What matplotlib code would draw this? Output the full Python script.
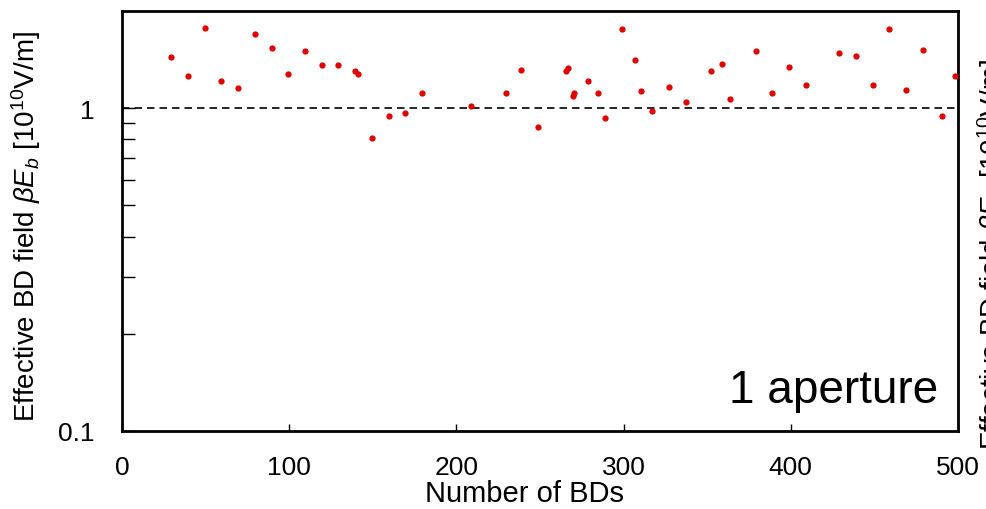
import matplotlib
matplotlib.use("Agg")
import matplotlib.pyplot as plt
from matplotlib.ticker import FixedLocator, NullFormatter, FixedFormatter

plt.rcParams['font.family'] = ['Liberation Sans', 'DejaVu Sans']
plt.rcParams['mathtext.fontset'] = 'custom'
plt.rcParams['mathtext.rm'] = 'Liberation Sans'
plt.rcParams['mathtext.it'] = 'Liberation Sans:italic'

num_bds = [29.3, 39.7, 49.8, 59.2, 69.4, 79.5, 89.9, 99.3, 109.4, 119.6, 129.0,
           139.2, 141.0, 149.5, 159.7, 169.1, 179.2, 208.9, 229.5, 238.8, 249.0,
           265.7, 266.7, 269.5, 270.5, 278.9, 284.5, 289.1, 299.2, 306.8, 310.6,
           317.2, 327.3, 337.5, 352.5, 358.9, 363.6, 379.4, 388.8, 398.9, 409.1,
           428.8, 439.0, 449.2, 458.5, 468.7, 479.1, 490.2, 498.4]
bd_field = [1.436, 1.258, 1.775, 1.217, 1.153, 1.695, 1.535, 1.273, 1.503, 1.360, 1.360,
            1.301, 1.273, 0.810, 0.945, 0.965, 1.115, 1.019, 1.115, 1.316, 0.874,
            1.301, 1.331, 1.089, 1.115, 1.217, 1.115, 0.934, 1.753, 1.406, 1.128,
            0.977, 1.164, 1.044, 1.301, 1.374, 1.066, 1.503, 1.115, 1.345, 1.178,
            1.485, 1.454, 1.178, 1.753, 1.139, 1.518, 0.945, 1.258]
x_ticks = [0, 100, 200, 300, 400, 500]
y_tick_labels = ["0.1", "1"]
ref_level = 1.0

fig = plt.figure(figsize=(9.87, 5.10), dpi=100)
ax = fig.add_axes([122/987, 1-432/510, (958-122)/987, (432-12)/510])

ax.plot(num_bds, bd_field, 'o', color='#e00000', markersize=4.5, markeredgewidth=0, zorder=3)
ax.axhline(ref_level, color='black', lw=1.2, dashes=(4.5, 3), zorder=2)

ax.set_yscale('log')
ax.set_xlim(0, 500)
ax.set_ylim(0.1, 2.0)

ax.xaxis.set_major_locator(FixedLocator(x_ticks))
ax.set_xticklabels([str(t) for t in x_ticks])
ax.yaxis.set_major_locator(FixedLocator([0.1, 1.0]))
ax.yaxis.set_major_formatter(FixedFormatter(y_tick_labels))
ax.yaxis.set_minor_locator(FixedLocator([0.2, 0.3, 0.4, 0.5, 0.6, 0.7, 0.8, 0.9]))
ax.yaxis.set_minor_formatter(NullFormatter())

ax.tick_params(axis='x', which='both', direction='in', length=5, width=1, labelsize=19, pad=17,
               top=False)
ax.tick_params(axis='y', which='major', direction='in', length=9, width=1, labelsize=19, pad=20,
               right=False)
ax.tick_params(axis='y', which='minor', direction='in', length=9, width=1, right=False)

for s in ax.spines.values():
    s.set_linewidth(2.0)

ax.set_xlabel('Number of BDs', fontsize=21, labelpad=0)
ax.xaxis.set_label_coords(0.481, -0.115)
ylab = r'Effective BD field $\mathit{\beta E_b}$ [10$^{10}$V/m]'
ax.set_ylabel(ylab, fontsize=20)
ax.yaxis.set_label_coords(-0.094, 0.489)

ax.text(0.976, 0.07, '1 aperture', transform=ax.transAxes, ha='right', va='baseline', fontsize=33)

fig.text(975/987, 0.5, ylab, rotation=90, ha='left', va='center', fontsize=20)

fig.savefig('out.png', dpi=100)
